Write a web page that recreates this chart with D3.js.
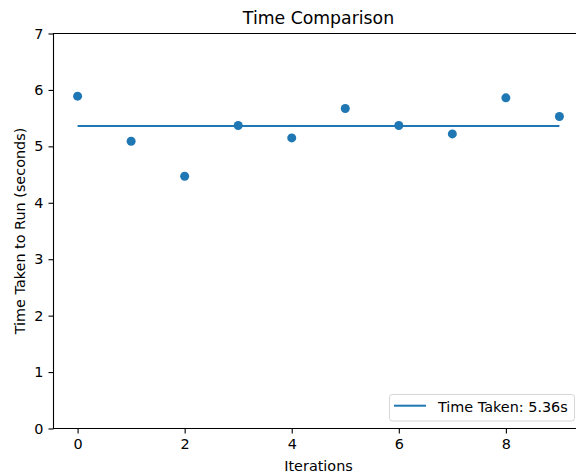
<!DOCTYPE html>
<html>
<head>
<meta charset="utf-8">
<script src="https://cdn.jsdelivr.net/npm/d3@7"></script>
<style>
  html, body { margin: 0; padding: 0; background: #fff; }
  svg { display: block; font-family: "DejaVu Sans", sans-serif; }
</style>
</head>
<body>
<svg id="chart" width="576" height="476"></svg>
<script>
// Run times per iteration (seconds)
const iterations = [0, 1, 2, 3, 4, 5, 6, 7, 8, 9];
const runTimes = [5.89, 5.09, 4.47, 5.37, 5.15, 5.67, 5.37, 5.22, 5.86, 5.53];
const meanTime = 5.36;
const xTicks = [0, 2, 4, 6, 8];
const yTicks = [0, 1, 2, 3, 4, 5, 6, 7];

const blue = "#1f77b4";
const svg = d3.select("#chart");

const plotLeft = 53.5, plotTop = 33.5, plotBottom = 428.5, plotRight = 583.5;

const x = d3.scaleLinear().domain([-0.45, 9.45]).range([plotLeft, plotRight]);
const y = d3.scaleLinear().domain([0, 7]).range([plotBottom, plotTop]);

// Axes
const xAxis = d3.axisBottom(x).tickValues(xTicks).tickFormat(d3.format("d"))
  .tickSizeInner(5).tickSizeOuter(0).tickPadding(5);
const yAxis = d3.axisLeft(y).tickValues(yTicks).tickFormat(d3.format("d"))
  .tickSizeInner(5).tickSizeOuter(0).tickPadding(5);

const gx = svg.append("g").attr("transform", `translate(0,${plotBottom})`).call(xAxis);
const gy = svg.append("g").attr("transform", `translate(${plotLeft},0)`).call(yAxis);

[gx, gy].forEach(g => {
  g.select(".domain").remove();
  g.selectAll(".tick line").attr("stroke", "#000").attr("stroke-width", 1.1);
  g.selectAll(".tick text")
    .attr("fill", "#000")
    .style("font-size", "14.4px")
    .style("font-family", "DejaVu Sans, sans-serif");
});
gx.selectAll(".tick text").attr("dy", "0.71em");

// Mean line
svg.append("line")
  .attr("x1", x(iterations[0])).attr("x2", x(iterations[iterations.length - 1]))
  .attr("y1", y(meanTime)).attr("y2", y(meanTime))
  .attr("stroke", blue).attr("stroke-width", 2);

// Points
svg.append("g").selectAll("circle")
  .data(iterations)
  .join("circle")
  .attr("cx", (d) => x(d))
  .attr("cy", (d, i) => y(runTimes[i]))
  .attr("r", 4.5)
  .attr("fill", blue);

// Spines
svg.append("path")
  .attr("d", `M${plotRight},${plotTop}H${plotLeft}V${plotBottom}H${plotRight}`)
  .attr("fill", "none").attr("stroke", "#000").attr("stroke-width", 1.1);

// Title and axis labels
svg.append("text")
  .attr("x", (plotLeft + plotRight) / 2).attr("y", 24)
  .attr("text-anchor", "middle")
  .style("font-size", "17.3px")
  .text("Time Comparison");

svg.append("text")
  .attr("x", (plotLeft + plotRight) / 2).attr("y", 471)
  .attr("text-anchor", "middle")
  .style("font-size", "14.4px")
  .text("Iterations");

svg.append("text")
  .attr("transform", `translate(25,${(plotTop + plotBottom) / 2}) rotate(-90)`)
  .attr("text-anchor", "middle")
  .style("font-size", "14.4px")
  .text("Time Taken to Run (seconds)");

// Legend
const lg = svg.append("g");
lg.append("rect")
  .attr("x", 389.5).attr("y", 394.5).attr("width", 185).attr("height", 26.5)
  .attr("rx", 2.8)
  .attr("fill", "#fff").attr("fill-opacity", 0.8)
  .attr("stroke", "#d6d6d6").attr("stroke-width", 1);
lg.append("line")
  .attr("x1", 394).attr("x2", 426).attr("y1", 405.7).attr("y2", 405.7)
  .attr("stroke", blue).attr("stroke-width", 2);
lg.append("text")
  .attr("x", 438).attr("y", 411.5)
  .style("font-size", "14.4px")
  .text(`Time Taken: ${meanTime.toFixed(2)}s`);
</script>
</body>
</html>
